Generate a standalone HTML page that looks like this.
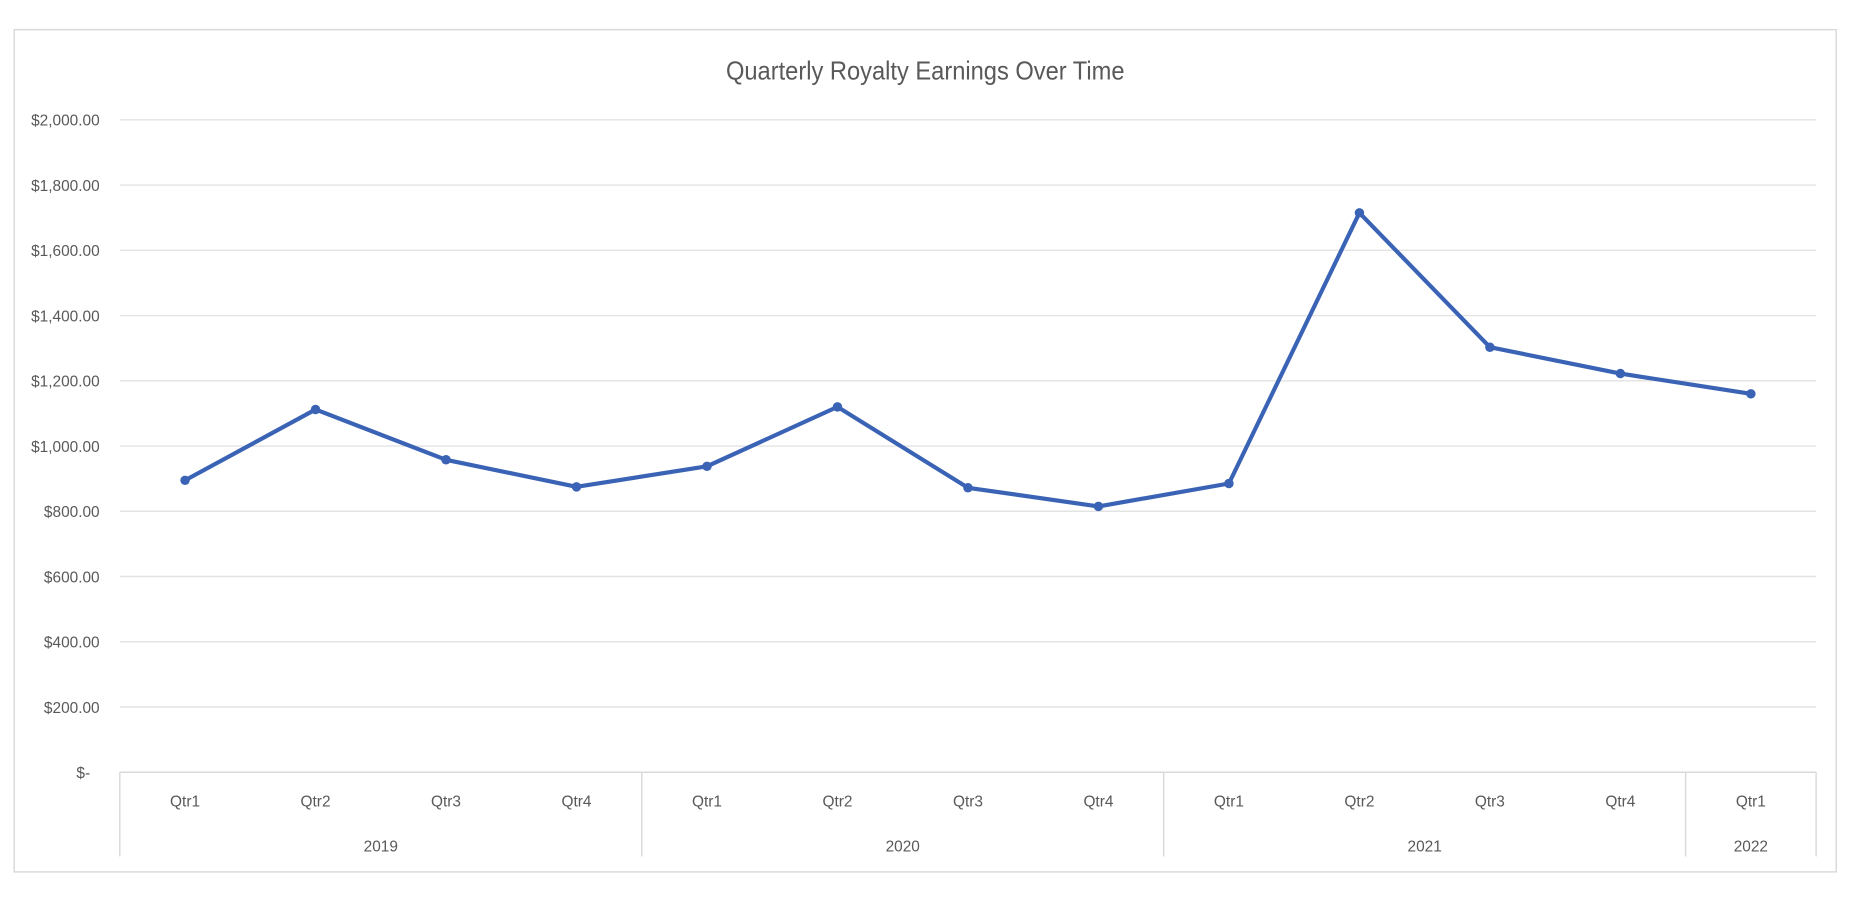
<!DOCTYPE html>
<html><head><meta charset="utf-8"><style>
html,body{margin:0;padding:0;background:#fff;}
svg{display:block;}
text{font-family:"Liberation Sans Narrow","Liberation Sans",sans-serif;fill:#595959;}
</style></head><body>
<svg width="1860" height="907" viewBox="0 0 1568 764.6" preserveAspectRatio="none">
<rect x="12" y="25" width="1536" height="710" fill="#fff" stroke="#d9d9d9" stroke-width="1.2"/>
<text x="780" y="67" font-size="22" text-anchor="middle" textLength="336" lengthAdjust="spacingAndGlyphs">Quarterly Royalty Earnings Over Time</text>
<g stroke="#e3e3e3" stroke-width="1.2">
<line x1="101" x2="1531" y1="101" y2="101"/><line x1="101" x2="1531" y1="156" y2="156"/>
<line x1="101" x2="1531" y1="211" y2="211"/><line x1="101" x2="1531" y1="266" y2="266"/>
<line x1="101" x2="1531" y1="321" y2="321"/><line x1="101" x2="1531" y1="376" y2="376"/>
<line x1="101" x2="1531" y1="431" y2="431"/><line x1="101" x2="1531" y1="486" y2="486"/>
<line x1="101" x2="1531" y1="541" y2="541"/><line x1="101" x2="1531" y1="596" y2="596"/>
</g>
<g stroke="#d9d9d9" stroke-width="1.2">
<line x1="101" x2="1531" y1="651" y2="651"/>
<line x1="101" x2="101" y1="651" y2="722"/><line x1="541" x2="541" y1="651" y2="722"/>
<line x1="981" x2="981" y1="651" y2="722"/><line x1="1421" x2="1421" y1="651" y2="722"/>
<line x1="1531" x2="1531" y1="651" y2="722"/>
</g>
<g font-size="13" text-anchor="end">
<text x="84" y="106">$2,000.00</text><text x="84" y="161">$1,800.00</text>
<text x="84" y="216">$1,600.00</text><text x="84" y="271">$1,400.00</text>
<text x="84" y="326">$1,200.00</text><text x="84" y="381">$1,000.00</text>
<text x="84" y="436">$800.00</text><text x="84" y="491">$600.00</text>
<text x="84" y="546">$400.00</text><text x="84" y="601">$200.00</text>
<text x="76" y="656">$-</text>
</g>
<g font-size="13" text-anchor="middle">
<text x="156" y="680">Qtr1</text><text x="266" y="680">Qtr2</text><text x="376" y="680">Qtr3</text><text x="486" y="680">Qtr4</text>
<text x="596" y="680">Qtr1</text><text x="706" y="680">Qtr2</text><text x="816" y="680">Qtr3</text><text x="926" y="680">Qtr4</text>
<text x="1036" y="680">Qtr1</text><text x="1146" y="680">Qtr2</text><text x="1256" y="680">Qtr3</text><text x="1366" y="680">Qtr4</text>
<text x="1476" y="680">Qtr1</text>
<text x="321" y="718">2019</text><text x="761" y="718">2020</text><text x="1201" y="718">2021</text><text x="1476" y="718">2022</text>
</g>
<polyline fill="none" stroke="#3a63b5" stroke-width="3.5" stroke-linejoin="round"
points="156,404.9 266,345.2 376,387.6 486,410.4 596,393.1 706,343 816,411.2 926,426.9 1036,407.6 1146,179.4 1256,292.7 1366,314.9 1476,332"/>
<g fill="#3a63b5">
<circle cx="156" cy="404.9" r="4"/><circle cx="266" cy="345.2" r="4"/><circle cx="376" cy="387.6" r="4"/><circle cx="486" cy="410.4" r="4"/>
<circle cx="596" cy="393.1" r="4"/><circle cx="706" cy="343" r="4"/><circle cx="816" cy="411.2" r="4"/><circle cx="926" cy="426.9" r="4"/>
<circle cx="1036" cy="407.6" r="4"/><circle cx="1146" cy="179.4" r="4"/><circle cx="1256" cy="292.7" r="4"/><circle cx="1366" cy="314.9" r="4"/>
<circle cx="1476" cy="332" r="4"/>
</g>
</svg>
</body></html>
